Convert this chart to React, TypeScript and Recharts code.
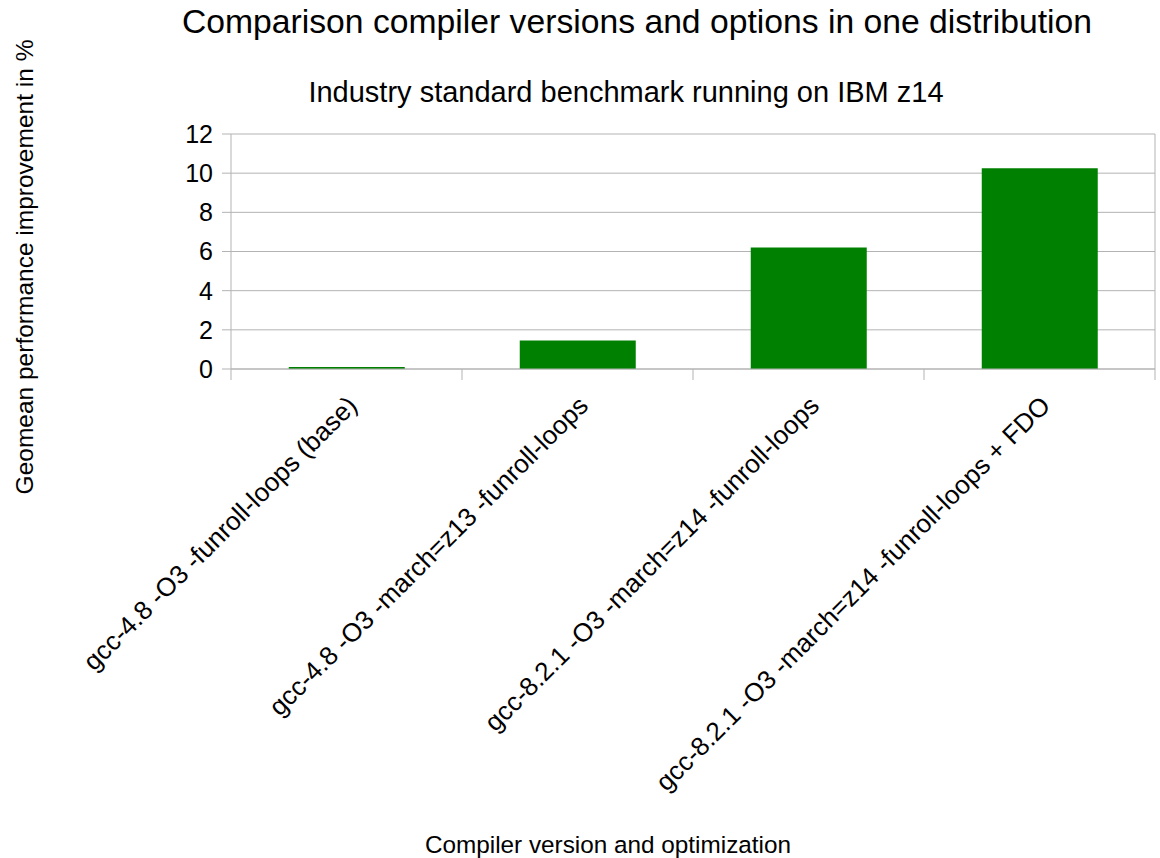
import { BarChart, Bar, XAxis, YAxis, CartesianGrid } from "recharts";

const categories = [
  "gcc-4.8 -O3 -funroll-loops (base)",
  "gcc-4.8 -O3 -march=z13 -funroll-loops",
  "gcc-8.2.1 -O3 -march=z14 -funroll-loops",
  "gcc-8.2.1 -O3 -march=z14 -funroll-loops + FDO",
];
const improvement = [0.1, 1.45, 6.2, 10.25];
const yTicks = [0, 2, 4, 6, 8, 10, 12];

const GRID = "#b3b3b3";
const FONT = "'Liberation Sans', Arial, sans-serif";

const data = categories.map((name, i) => ({ name, value: improvement[i] }));

// slanted label + LibreOffice-style tick marks on the category boundaries
function SlantTick(props: any) {
  const { x, y, payload, index } = props;
  const half = payload.offset || 0;
  const ax = x - 1;
  const ay = y + 25;
  return (
    <g>
      <line x1={x - half} y1={y} x2={x - half} y2={y + 11} stroke={GRID} />
      {index === categories.length - 1 && (
        <line x1={x + half} y1={y} x2={x + half} y2={y + 11} stroke={GRID} />
      )}
      <text
        x={ax}
        y={ay}
        dy="0.72em"
        textAnchor="end"
        transform={`rotate(-45, ${ax}, ${ay})`}
        fontSize={26}
        fill="#000"
        fontFamily={FONT}
      >
        {payload.value}
      </text>
    </g>
  );
}

export default function App() {
  return (
    <div style={{ position: "absolute", left: 0, top: 0, width: 1160, height: 858, background: "#fff", fontFamily: FONT }}>
      <BarChart
        width={1160}
        height={858}
        data={data}
        margin={{ top: 134, right: 5, bottom: 0, left: 171 }}
        barCategoryGap="25%"
      >
        <CartesianGrid
          stroke={GRID}
          verticalCoordinatesGenerator={({ offset }: any) => [offset.left + offset.width]}
        />
        <XAxis
          dataKey="name"
          interval={0}
          tickSize={0}
          tickMargin={0}
          tickLine={false}
          axisLine={{ stroke: GRID }}
          tick={<SlantTick />}
          height={489}
        />
        <YAxis
          domain={[0, 12]}
          ticks={yTicks}
          interval={0}
          width={60}
          tickSize={9}
          tickMargin={9}
          axisLine={{ stroke: GRID }}
          tickLine={{ stroke: GRID }}
          tick={{ fontSize: 25, fill: "#000", fontFamily: FONT }}
        />
        <Bar dataKey="value" fill="#008000" isAnimationActive={false} />
      </BarChart>
      {/* titles and axis captions */}
      <svg width={1160} height={858} style={{ position: "absolute", left: 0, top: 0, pointerEvents: "none" }}>
        <text x={637} y={33} textAnchor="middle" fontSize={33.7} fontFamily={FONT} fill="#000">
          Comparison compiler versions and options in one distribution
        </text>
        <text x={626} y={102} textAnchor="middle" fontSize={29} fontFamily={FONT} fill="#000">
          Industry standard benchmark running on IBM z14
        </text>
        <text transform="translate(33,267) rotate(-90)" textAnchor="middle" fontSize={24.5} fontFamily={FONT} fill="#000">
          Geomean performance improvement in %
        </text>
        <text x={608} y={853} textAnchor="middle" fontSize={24.3} fontFamily={FONT} fill="#000">
          Compiler version and optimization
        </text>
      </svg>
    </div>
  );
}
